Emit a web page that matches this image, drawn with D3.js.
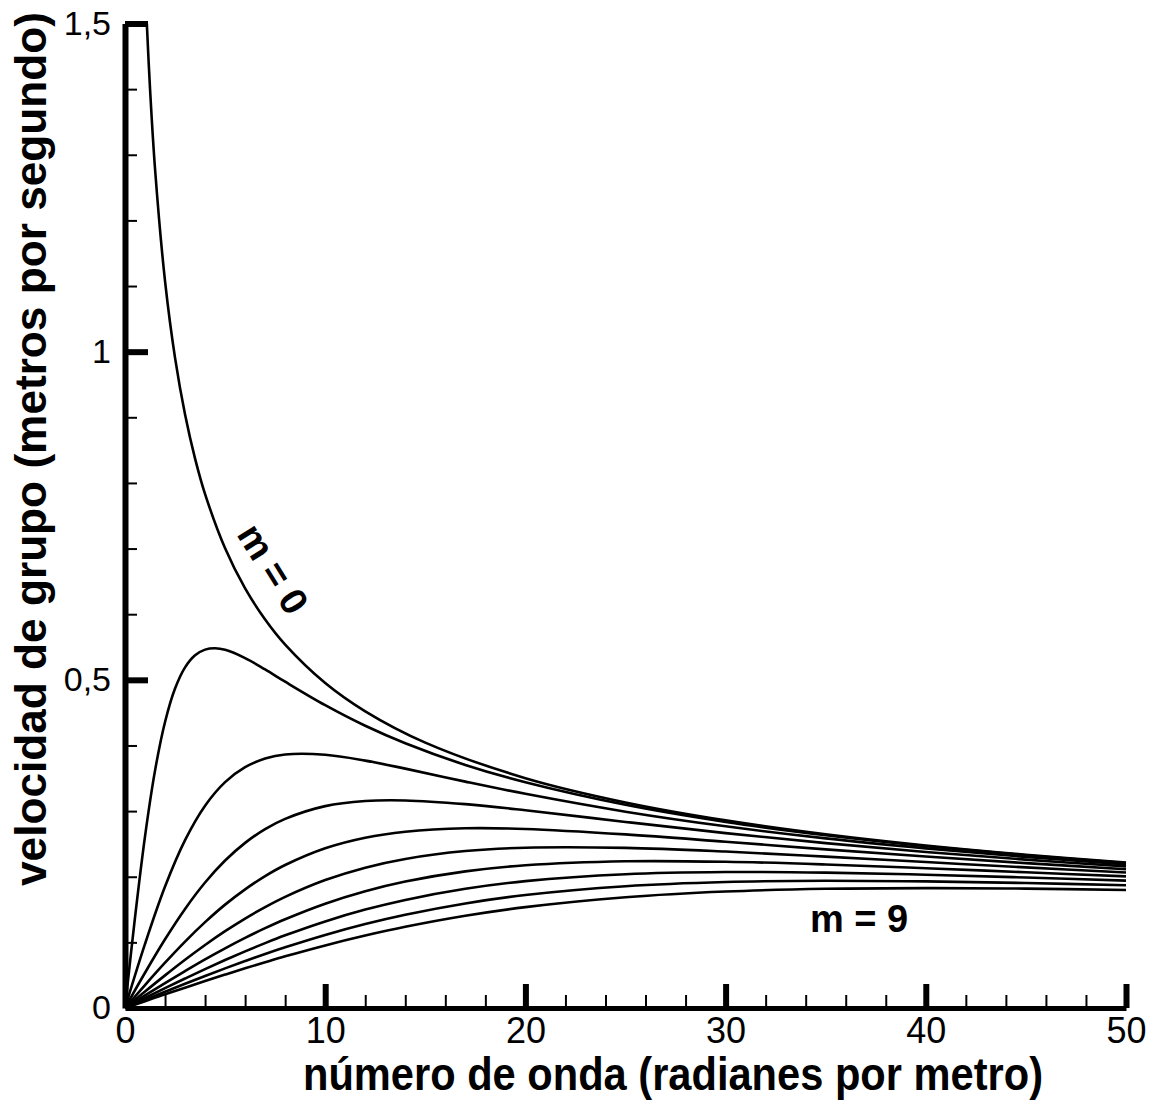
<!DOCTYPE html>
<html lang="es">
<head>
<meta charset="utf-8">
<title>Velocidad de grupo</title>
<script src="https://cdn.jsdelivr.net/npm/d3@7"></script>
<style>
    html, body { margin: 0; padding: 0; background: #fff; }
    svg { display: block; }
</style>
</head>
<body>
<svg id="chart" width="1156" height="1105"></svg>
<script>
/* --------------------------------------------------------------
DATOS
-------------------------------------------------------------- */

// número de onda común para m = 2 ... 9
const WAVENUMBER = [0, 1, 2, 3, 4, 5, 6, 7, 8, 10, 12, 14, 17, 20, 25, 30, 35, 40, 45, 50];

const WAVENUMBER_M0 = [1.09, 1.25, 1.5, 2, 2.5, 3, 3.5, 4, 5, 6, 7, 8, 10, 12, 15, 20, 25, 30, 35, 40, 45, 50];
const VELOCITY_M0 = [1.5, 1.4007, 1.2787, 1.1074, 0.9905, 0.9042, 0.8371, 0.7830, 0.7004, 0.6393, 0.5919, 0.5537,
    0.4952, 0.4521, 0.4044, 0.3502, 0.3132, 0.2859, 0.2647, 0.2476, 0.2335, 0.2215];

const WAVENUMBER_M1 = [0, 0.5, 1, 1.5, 2, 2.5, 3, 3.5, 4, 4.5, 5, 6, 7, 8, 10, 12, 14, 17, 20, 25, 30, 35, 40, 45, 50];
const VELOCITY_M1 = [0, 0.1380, 0.2616, 0.3617, 0.4358, 0.4867, 0.5190, 0.5374, 0.5460, 0.5481, 0.5457, 0.5331,
    0.5158, 0.4971, 0.4614, 0.4300, 0.4034, 0.3703, 0.3439, 0.3096, 0.2835, 0.2631, 0.2465, 0.2327, 0.2209];

const VELOCITY_M2 = [0, 0.0976, 0.1850, 0.2557, 0.3082, 0.3441, 0.3669, 0.3800, 0.3862, 0.3858, 0.3769, 0.3647,
    0.3449, 0.3263, 0.2991, 0.2768, 0.2584, 0.2432, 0.2301, 0.2189];
const VELOCITY_M3 = [0, 0.0537, 0.1047, 0.1510, 0.1912, 0.2247, 0.2516, 0.2726, 0.2882, 0.3076, 0.3153, 0.3162,
    0.3106, 0.3013, 0.2835, 0.2665, 0.2512, 0.2378, 0.2261, 0.2158];
const VELOCITY_M4 = [0, 0.0350, 0.0690, 0.1012, 0.1308, 0.1575, 0.1808, 0.2010, 0.2179, 0.2434, 0.2595, 0.2686,
    0.2739, 0.2728, 0.2645, 0.2533, 0.2417, 0.2308, 0.2207, 0.2115];
const VELOCITY_M5 = [0, 0.0251, 0.0497, 0.0735, 0.0960, 0.1170, 0.1363, 0.1537, 0.1693, 0.1949, 0.2138, 0.2271,
    0.2391, 0.2442, 0.2440, 0.2384, 0.2307, 0.2224, 0.2142, 0.2064];
const VELOCITY_M6 = [0, 0.0191, 0.0380, 0.0563, 0.0741, 0.0909, 0.1068, 0.1216, 0.1352, 0.1589, 0.1779, 0.1927,
    0.2082, 0.2174, 0.2235, 0.2228, 0.2187, 0.2130, 0.2068, 0.2005];
const VELOCITY_M7 = [0, 0.0152, 0.0302, 0.0449, 0.0593, 0.0731, 0.0863, 0.0989, 0.1107, 0.1319, 0.1499, 0.1647,
    0.1817, 0.1933, 0.2038, 0.2071, 0.2062, 0.2031, 0.1988, 0.1940];
const VELOCITY_M8 = [0, 0.0124, 0.0247, 0.0369, 0.0488, 0.0604, 0.0715, 0.0823, 0.0925, 0.1113, 0.1279, 0.1421,
    0.1593, 0.1721, 0.1855, 0.1919, 0.1938, 0.1929, 0.1904, 0.1870];
const VELOCITY_M9 = [0, 0.0104, 0.0208, 0.0310, 0.0411, 0.0509, 0.0605, 0.0697, 0.0787, 0.0954, 0.1104, 0.1237,
    0.1405, 0.1537, 0.1688, 0.1775, 0.1816, 0.1827, 0.1819, 0.1799];

const X_TICKS = [0, 10, 20, 30, 40, 50];
const X_TICK_LABELS = ["0", "10", "20", "30", "40", "50"];
const Y_TICKS = [0, 0.5, 1, 1.5];
const Y_TICK_LABELS = ["0", "0,5", "1", "1,5"];

const X_TITLE = "número de onda (radianes por metro)";
const Y_TITLE = "velocidad de grupo (metros por segundo)";

/* --------------------------------------------------------------
ESCALAS
-------------------------------------------------------------- */

const svg = d3.select("#chart");
const FONT = "'Liberation Sans', Arial, Helvetica, sans-serif";

const x = d3.scaleLinear().domain([0, 50]).range([125, 1126]);
const y = d3.scaleLinear().domain([0, 1.5]).range([1008, 23.5]);

const series = [
    { k: WAVENUMBER_M0, v: VELOCITY_M0 },
    { k: WAVENUMBER_M1, v: VELOCITY_M1 },
    { k: WAVENUMBER, v: VELOCITY_M2 },
    { k: WAVENUMBER, v: VELOCITY_M3 },
    { k: WAVENUMBER, v: VELOCITY_M4 },
    { k: WAVENUMBER, v: VELOCITY_M5 },
    { k: WAVENUMBER, v: VELOCITY_M6 },
    { k: WAVENUMBER, v: VELOCITY_M7 },
    { k: WAVENUMBER, v: VELOCITY_M8 },
    { k: WAVENUMBER, v: VELOCITY_M9 }
].map(s => s.k.map((k, i) => [k, s.v[i]]));

/* --------------------------------------------------------------
CURVAS
-------------------------------------------------------------- */

const line = d3.line()
    .x(d => x(d[0]))
    .y(d => y(d[1]))
    .curve(d3.curveCatmullRom.alpha(0.5));

svg.append("g")
    .selectAll("path")
    .data(series)
    .enter()
    .append("path")
    .attr("d", line)
    .attr("fill", "none")
    .attr("stroke", "#000")
    .attr("stroke-width", 2.6)
    .attr("stroke-linejoin", "round");

/* --------------------------------------------------------------
EJES
-------------------------------------------------------------- */

const xMinor = d3.range(0, 51, 2).filter(v => v % 10 !== 0);
const yMinor = d3.range(1, 15).filter(v => v % 5 !== 0).map(v => v / 10);

// ticks menores
svg.append("g")
    .attr("transform", `translate(0,${y(0)})`)
    .call(d3.axisBottom(x).tickValues(xMinor).tickSize(-13).tickSizeOuter(0).tickFormat(""))
    .call(g => g.select(".domain").remove())
    .call(g => g.selectAll(".tick line").attr("stroke-width", 2));

svg.append("g")
    .attr("transform", `translate(${x(0)},0)`)
    .call(d3.axisLeft(y).tickValues(yMinor).tickSize(-12).tickSizeOuter(0).tickFormat(""))
    .call(g => g.select(".domain").remove())
    .call(g => g.selectAll(".tick line").attr("stroke-width", 2));

// ticks mayores + etiquetas
const xAxis = svg.append("g")
    .attr("transform", `translate(0,${y(0)})`)
    .call(d3.axisBottom(x).tickValues(X_TICKS).tickSize(-24).tickSizeOuter(0).tickPadding(9)
        .tickFormat((d, i) => X_TICK_LABELS[i]));

const yAxis = svg.append("g")
    .attr("transform", `translate(${x(0)},0)`)
    .call(d3.axisLeft(y).tickValues(Y_TICKS).tickSize(-23).tickSizeOuter(0).tickPadding(14)
        .tickFormat((d, i) => Y_TICK_LABELS[i]));

[xAxis, yAxis].forEach(g => {
    g.attr("font-family", FONT).attr("font-size", 34);
    g.select(".domain").attr("stroke-width", 6);
    g.selectAll(".tick line").attr("stroke-width", 6);
    g.selectAll(".tick text").attr("fill", "#000");
});
xAxis.attr("font-size", 36);
xAxis.select(".domain").attr("stroke-width", 5);
xAxis.selectAll(".tick:first-of-type line").remove();
yAxis.selectAll(".tick:first-of-type line").remove();

/* --------------------------------------------------------------
TÍTULOS Y ETIQUETAS
-------------------------------------------------------------- */

svg.append("text")
    .attr("x", 673)
    .attr("y", 1090)
    .attr("text-anchor", "middle")
    .attr("font-family", FONT)
    .attr("font-weight", "bold")
    .attr("font-size", 46)
    .attr("textLength", 740)
    .attr("lengthAdjust", "spacingAndGlyphs")
    .text(X_TITLE);

svg.append("text")
    .attr("transform", "translate(46,449) rotate(-90)")
    .attr("text-anchor", "middle")
    .attr("font-family", FONT)
    .attr("font-weight", "bold")
    .attr("font-size", 45)
    .attr("textLength", 874)
    .attr("lengthAdjust", "spacingAndGlyphs")
    .text(Y_TITLE);

svg.append("text")
    .attr("transform", "translate(273,569) rotate(58)")
    .attr("text-anchor", "middle")
    .attr("dominant-baseline", "central")
    .attr("font-family", FONT)
    .attr("font-weight", "bold")
    .attr("font-size", 38)
    .text("m = 0");

svg.append("text")
    .attr("x", 810)
    .attr("y", 932)
    .attr("font-family", FONT)
    .attr("font-weight", "bold")
    .attr("font-size", 38)
    .text("m = 9");
</script>
</body>
</html>
